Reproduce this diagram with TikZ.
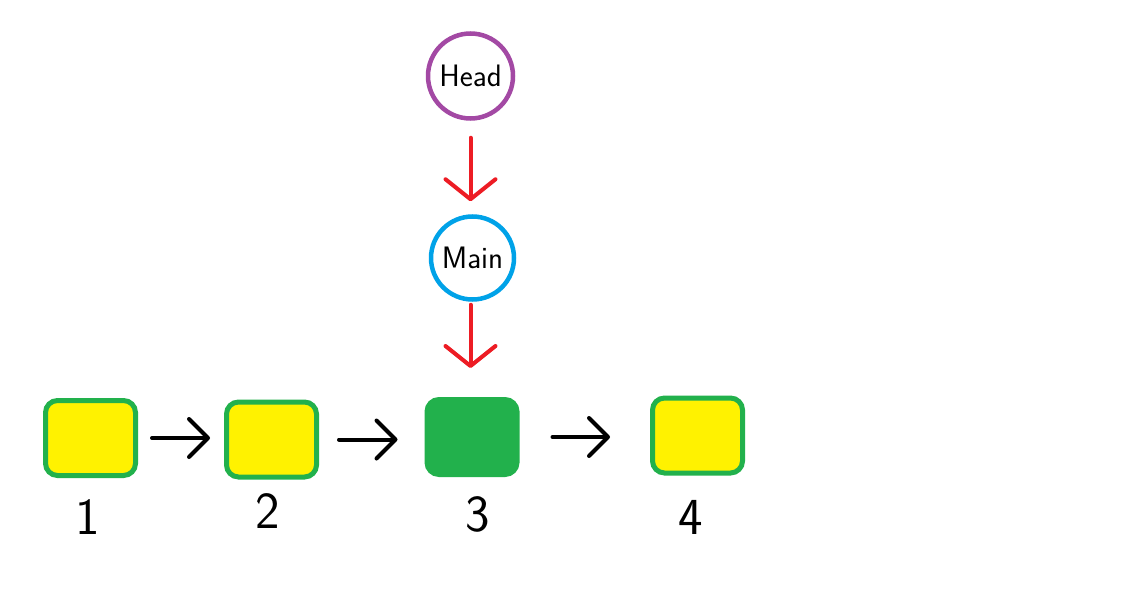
\documentclass[tikz,border=0pt]{standalone}
\usetikzlibrary{arrows.meta}
\definecolor{cpurple}{HTML}{A349A4}
\definecolor{cblue}{HTML}{00A2E8}
\definecolor{cred}{HTML}{ED1C24}
\definecolor{cgreen}{HTML}{22B14C}
\definecolor{cyellow}{HTML}{FFF200}
\begin{document}
\begin{tikzpicture}[x=1pt,y=-1pt,
  ring/.style={circle,line width=4.5pt,fill=white,inner sep=0pt,font=\sffamily\fontsize{31}{31}\selectfont},
  cell/.style={draw=cgreen,line width=5pt,rounded corners=12pt,minimum width=90pt,minimum height=75pt,inner sep=0pt},
  redarrow/.style={draw=cred,line width=4pt,line cap=round,-{Straight Barb[length=20pt,width=50pt,round]}},
  blackarrow/.style={draw=black,line width=4pt,line cap=round,-{Straight Barb[length=19pt,width=38pt,round]}},
  num/.style={font=\sffamily\fontsize{52}{52}\selectfont,inner sep=0pt}]
\useasboundingbox (0,0) rectangle (1121,612);
\fill[white] (0,0) rectangle (1121,612);
\node[ring,draw=cpurple,minimum size=85pt] (head) at (470.5,76) {Head};
\node[ring,draw=cblue,minimum size=83pt] (main) at (472.5,258) {Main};
\node[cell,fill=cyellow] (b1) at (90.5,438) {};
\node[cell,fill=cyellow] (b2) at (271.5,439.5) {};
\node[cell,fill=cgreen] (b3) at (472,437) {};
\node[cell,fill=cyellow] (b4) at (697.5,435.5) {};
\node[num] (n1) at (88,517) {1};
\node[num] (n2) at (268,511) {2};
\node[num] (n3) at (478,514) {3};
\node[num] (n4) at (691,517) {4};
\draw[redarrow,shorten <=17pt,shorten >=13pt] (head.south) -- (head.south |- main.north);
\draw[redarrow,shorten <=3pt,shorten >=29pt] (main.south -| head.south) -- (head.south |- b3.north);
\draw[blackarrow,shorten <=14pt,shorten >=14pt] (b1.east) -- (b1.east -| b2.west);
\draw[blackarrow,shorten <=20pt,shorten >=27pt] (b2.east) -- (b2.east -| b3.west);
\draw[blackarrow,shorten <=33pt,shorten >=40pt] (b3.east) -- (b3.east -| b4.west);
\end{tikzpicture}
\end{document}
